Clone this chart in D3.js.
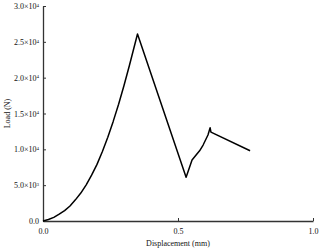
<!DOCTYPE html>
<html><head><meta charset="utf-8">
<script src="https://d3js.org/d3.v7.min.js"></script>
<style>body{margin:0;background:#fff}text{font-family:"Liberation Serif","DejaVu Serif",serif;fill:#111}</style>
</head><body><svg id="c" width="319" height="251"></svg>
<script>
const displacement = [0,0.02,0.04,0.06,0.08,0.1,0.12,0.14,0.16,0.18,0.2,0.22,0.24,0.26,0.28,0.3,0.32,0.35,0.53,0.552,0.567,0.58,0.593,0.611,0.619,0.622,0.767];
const load = [0,200,500,950,1450,2100,2950,3900,5050,6400,7900,9700,11700,13900,16300,18900,21700,26100,6100,8500,9200,9800,10600,12000,13000,12400,9800];
const xTicks = [0,0.5,1.0];
const yTicks = [0,5000,10000,15000,20000,25000,30000];
const yTickLabels = [["0.0",""],["5.0×10","3"],["1.0×10","4"],["1.5×10","4"],["2.0×10","4"],["2.5×10","4"],["3.0×10","4"]];

const svg = d3.select("#c");
const L=43,R=313,T=6,B=221;
const x = d3.scaleLinear().domain([0,1]).range([L,R]);
const y = d3.scaleLinear().domain([0,30000]).range([B,T]);

// x axis
const gx = svg.append("g").attr("transform",`translate(0,${B})`)
  .call(d3.axisBottom(x).tickValues(xTicks).tickSizeInner(-3).tickSizeOuter(0).tickFormat(d3.format(".1f")));
gx.select(".domain").attr("stroke","#333").attr("stroke-width",1.3);
gx.selectAll(".tick line").attr("stroke","#333").attr("stroke-width",1);
gx.selectAll(".tick text").attr("y",7).attr("font-size",8).attr("font-family","Liberation Serif");

// y axis
const gy = svg.append("g").attr("transform",`translate(${L},0)`)
  .call(d3.axisLeft(y).tickValues(yTicks).tickSizeInner(-3).tickSizeOuter(0).tickFormat(""));
gy.select(".domain").attr("stroke","#333").attr("stroke-width",1.3);
gy.selectAll(".tick line").attr("stroke","#333").attr("stroke-width",1);
gy.selectAll(".tick").each(function(d,i){
  const t = d3.select(this).append("text").attr("x",-4).attr("dy","0.32em")
    .attr("text-anchor","end").attr("font-size",8).attr("fill","#111");
  const lab = yTickLabels[i];
  t.append("tspan").text(lab[0]);
  if(lab[1]) t.append("tspan").attr("dy","-0.45em").attr("font-size",5).text(lab[1]);
});

// line
const pts = displacement.map((d,i)=>[d,load[i]]);
svg.append("path").datum(pts)
  .attr("fill","none").attr("stroke","#000").attr("stroke-width",1.5).attr("stroke-linejoin","round")
  .attr("d",d3.line().x(d=>x(d[0])).y(d=>y(d[1])));

// labels
svg.append("text").attr("x",(L+R)/2).attr("y",246).attr("text-anchor","middle").attr("font-size",8).text("Displacement (mm)");
svg.append("text").attr("transform",`translate(10,${(T+B)/2}) rotate(-90)`).attr("text-anchor","middle").attr("font-size",8).text("Load (N)");
</script></body></html>
